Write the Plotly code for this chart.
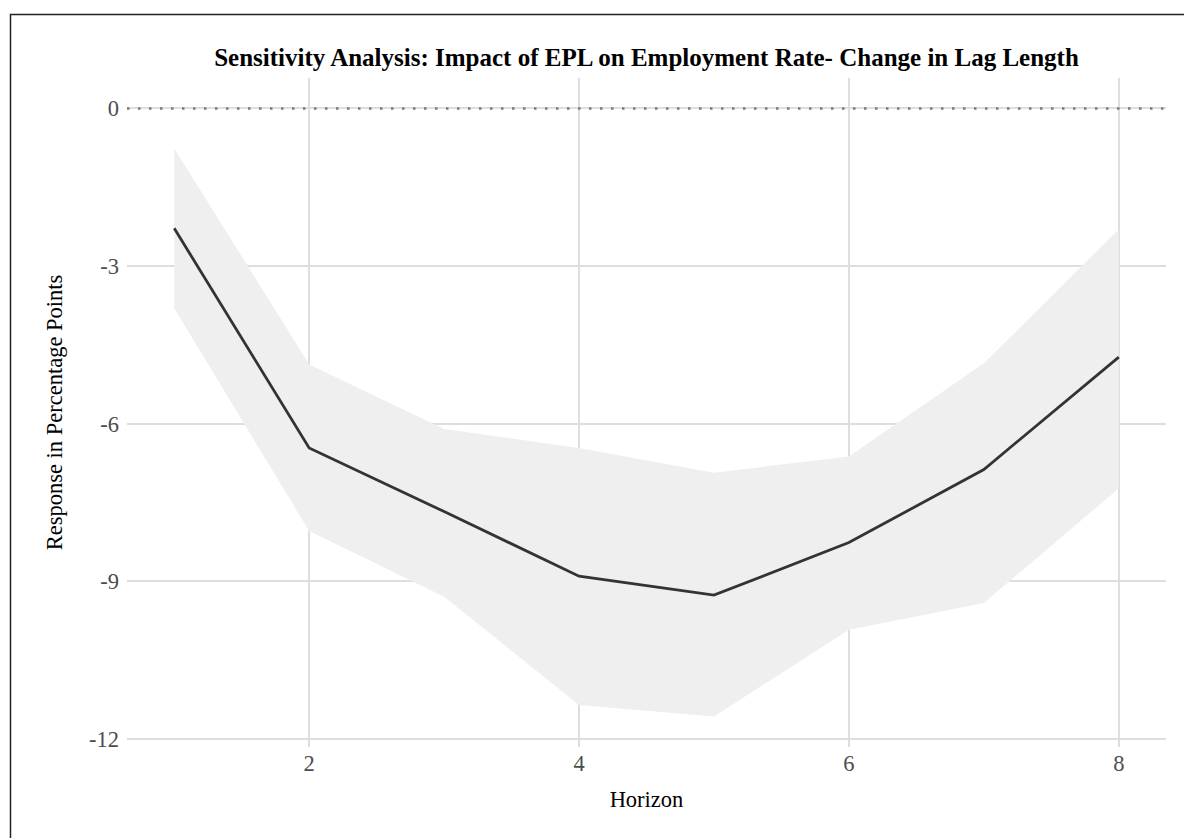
import plotly.graph_objects as go

# Impulse response of employment rate to an EPL shock, by horizon
horizon = [1, 2, 3, 4, 5, 6, 7, 8]
response = [-2.28, -6.46, -7.67, -8.90, -9.26, -8.26, -6.87, -4.73]
upper = [-0.76, -4.87, -6.10, -6.46, -6.93, -6.62, -4.85, -2.30]
lower = [-3.80, -8.04, -9.29, -11.35, -11.57, -9.92, -9.41, -7.23]

x_ticks = [2, 4, 6, 8]
y_ticks = [0, -3, -6, -9, -12]
y_tick_labels = ["0", "-3", "-6", "-9", "-12"]

W, H = 1184, 838
ML, MR, MT, MB = 127, 18, 78, 91
PW, PH = W - ML - MR, H - MT - MB

SERIF = "Liberation Serif, Times New Roman, serif"
TEXT_SIZE = 22.5

fig = go.Figure()

# confidence band
fig.add_trace(go.Scatter(
    x=horizon + horizon[::-1],
    y=upper + lower[::-1],
    fill="toself",
    fillcolor="#efefef",
    line=dict(width=0),
    mode="lines",
    hoverinfo="skip",
    showlegend=False,
))

# zero reference line
fig.add_trace(go.Scatter(
    x=[0.65, 8.35],
    y=[0, 0],
    mode="lines",
    line=dict(color="#7a7a7a", width=2.5, dash="2.5px,8.5px"),
    hoverinfo="skip",
    showlegend=False,
))

# point estimates
fig.add_trace(go.Scatter(
    x=horizon,
    y=response,
    mode="lines",
    line=dict(color="#333333", width=2.8),
    showlegend=False,
))

# outer frame
def px_to_paper_x(px):
    return (px - ML) / PW

def px_to_paper_y(py):
    return (H - MB - py) / PH

fig.add_shape(
    type="rect", xref="paper", yref="paper",
    x0=px_to_paper_x(10.5), x1=px_to_paper_x(1200),
    y0=px_to_paper_y(860), y1=px_to_paper_y(14.5),
    line=dict(color="#222222", width=1.5),
    fillcolor="rgba(0,0,0,0)",
    layer="above",
)

fig.update_layout(
    width=W, height=H,
    margin=dict(l=ML, r=MR, t=MT, b=MB),
    paper_bgcolor="white",
    plot_bgcolor="white",
    font=dict(family=SERIF, color="black"),
    title=dict(
        text="<b>Sensitivity Analysis: Impact of EPL on Employment Rate- Change in Lag Length</b>",
        x=(ML + PW / 2) / W, xanchor="center",
        y=1 - 57 / H, yanchor="middle",
        font=dict(family=SERIF, size=25, color="black"),
    ),
    xaxis=dict(
        range=[0.65, 8.35],
        tickvals=x_ticks,
        ticktext=[str(v) for v in x_ticks],
        showgrid=True, gridcolor="#dedede", gridwidth=1.5,
        zeroline=False, showline=False, ticks="",
        tickfont=dict(family=SERIF, size=TEXT_SIZE, color="#4d4d4d"),
        title=dict(text="Horizon", font=dict(family=SERIF, size=TEXT_SIZE, color="black"), standoff=16),
    ),
    yaxis=dict(
        range=[-12.15, 0.58],
        tickvals=y_ticks,
        ticktext=y_tick_labels,
        showgrid=True, gridcolor="#dedede", gridwidth=1.5,
        zeroline=False, showline=False, ticks="",
        ticklabelstandoff=7,
        tickfont=dict(family=SERIF, size=TEXT_SIZE, color="#4d4d4d"),
        title=dict(text="Response in Percentage Points", font=dict(family=SERIF, size=TEXT_SIZE, color="black"), standoff=20),
    ),
)

fig.write_html("out.html")
